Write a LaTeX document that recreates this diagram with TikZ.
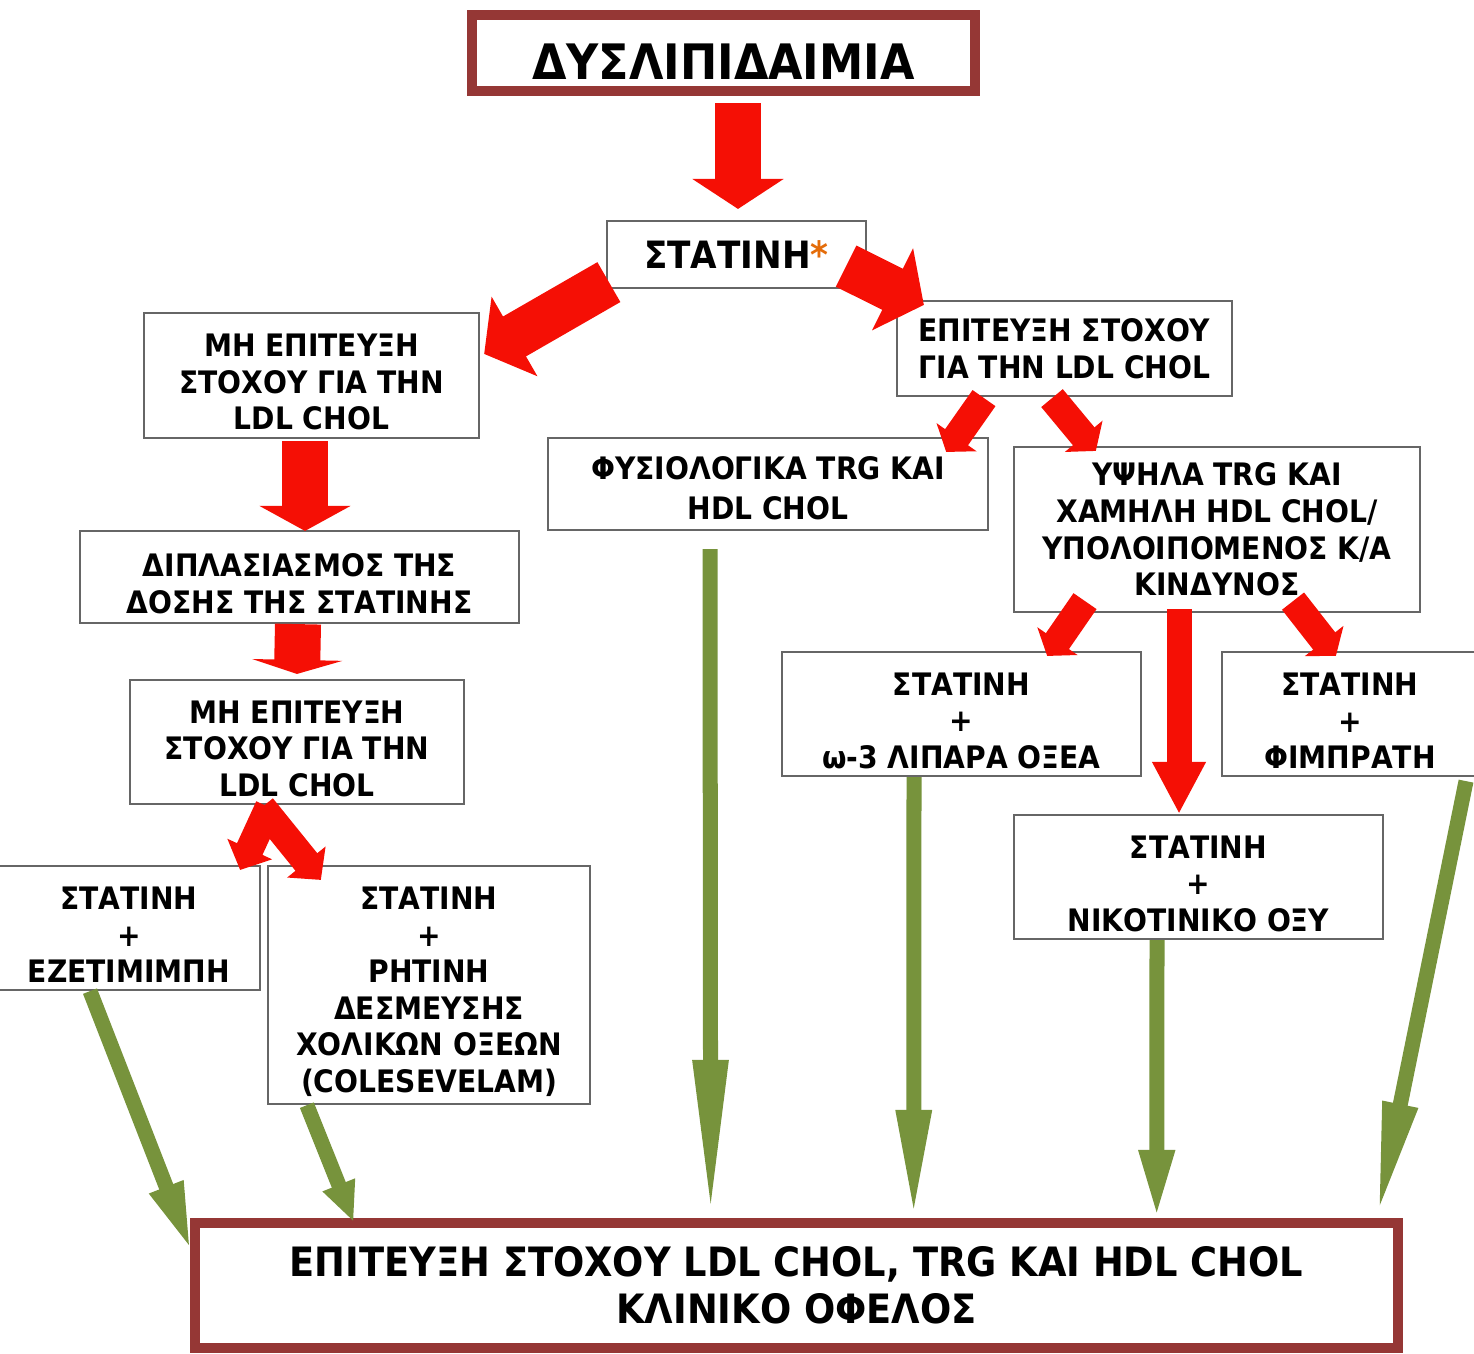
\documentclass[tikz,border=0pt]{standalone}
\usepackage{fontspec}
\setmainfont{DejaVu Sans}[FakeStretch=0.91]
\usetikzlibrary{arrows.meta,calc}

\definecolor{arrowred}{RGB}{245,15,5}
\definecolor{arrowgreen}{RGB}{119,147,60}
\definecolor{framered}{RGB}{149,55,53}
\definecolor{starorange}{RGB}{228,108,10}

\newcommand{\topgap}{\rule{0pt}{3.6mm}} % taller first line, text sits lower

\tikzset{
  redfat/.style = {draw=arrowred, line width=4.6mm, -{Triangle[width=9mm,length=#1]}},
  redthin/.style = {draw=arrowred, line width=2.8mm, -{Triangle[width=4.8mm,length=#1]}},
  greenline/.style = {draw=arrowgreen, line width=1.5mm, -{Triangle[width=3.2mm,length=#1]}}
}

\begin{document}
\begin{tikzpicture}[
        x = 0.01cm, % one unit = one pixel of the layout
        y = -0.01cm, % rows grow downwards
        font = \bfseries\fontsize{8.8}{10.4}\selectfont % box text
      ]

      \tikzstyle{box}=[rectangle, draw=black!60, line width=0.6pt, fill=white, align=center, inner sep=0pt]
      \tikzstyle{frame}=[rectangle, draw=framered, line width=1mm, fill=white, align=center, inner sep=0pt]

      \useasboundingbox (0,0) rectangle (1474,1353);

      % boxes
      \node[frame, minimum width=5.03cm, minimum height=0.76cm, font=\bfseries\fontsize{13.9}{16}\selectfont] (top) at (723.5,53) {\rule{0pt}{5.2mm}ΔΥΣΛΙΠΙΔΑΙΜΙΑ};
      \node[box, minimum width=2.59cm, minimum height=0.67cm, font=\bfseries\fontsize{10.7}{12}\selectfont] (stat) at (736.5,254.5) {ΣΤΑΤΙΝΗ\textcolor{starorange}{*}};
      \node[box, minimum width=3.35cm, minimum height=1.25cm] (mhA) at (311.5,375.5) {\topgap ΜΗ ΕΠΙΤΕΥΞΗ\\ΣΤΟΧΟΥ ΓΙΑ ΤΗΝ\\LDL CHOL};
      \node[box, minimum width=3.35cm, minimum height=0.95cm] (epit) at (1064.5,348.5) {ΕΠΙΤΕΥΞΗ ΣΤΟΧΟΥ\\ΓΙΑ ΤΗΝ LDL CHOL};
      \node[box, minimum width=4.40cm, minimum height=0.92cm, font=\bfseries\fontsize{8.8}{11.4}\selectfont] (fysio) at (768,484) {\rule{0pt}{3.2mm}ΦΥΣΙΟΛΟΓΙΚΑ TRG ΚΑΙ\\HDL CHOL};
      \node[box, minimum width=4.06cm, minimum height=1.65cm] (ypsila) at (1217,529.5) {ΥΨΗΛΑ TRG ΚΑΙ\\ΧΑΜΗΛΗ HDL CHOL/\\ΥΠΟΛΟΙΠΟΜΕΝΟΣ Κ/Α\\ΚΙΝΔΥΝΟΣ};
      \node[box, minimum width=4.39cm, minimum height=0.92cm] (dipl) at (299.5,577) {\topgap ΔΙΠΛΑΣΙΑΣΜΟΣ ΤΗΣ\\ΔΟΣΗΣ ΤΗΣ ΣΤΑΤΙΝΗΣ};
      \node[box, minimum width=3.34cm, minimum height=1.24cm] (mhB) at (297,742) {\topgap ΜΗ ΕΠΙΤΕΥΞΗ\\ΣΤΟΧΟΥ ΓΙΑ ΤΗΝ\\LDL CHOL};
      \node[box, minimum width=3.59cm, minimum height=1.24cm] (omega) at (961.5,714) {\topgap ΣΤΑΤΙΝΗ\\+\\ω-3 ΛΙΠΑΡΑ ΟΞΕΑ};
      \node[box, minimum width=2.56cm, minimum height=1.24cm] (fibr) at (1350,714) {\topgap ΣΤΑΤΙΝΗ\\+\\ΦΙΜΠΡΑΤΗ};
      \node[box, minimum width=3.69cm, minimum height=1.24cm] (nikot) at (1198.5,877) {\topgap ΣΤΑΤΙΝΗ\\+\\ΝΙΚΟΤΙΝΙΚΟ ΟΞΥ};
      \node[box, minimum width=2.62cm, minimum height=1.24cm] (ezet) at (129,928) {\topgap ΣΤΑΤΙΝΗ\\+\\ΕΖΕΤΙΜΙΜΠΗ};
      \node[box, minimum width=3.22cm, minimum height=2.38cm] (rhtini) at (429,985) {\topgap ΣΤΑΤΙΝΗ\\+\\ΡΗΤΙΝΗ\\ΔΕΣΜΕΥΣΗΣ\\ΧΟΛΙΚΩΝ ΟΞΕΩΝ\\(COLESEVELAM)};
      \node[frame, minimum width=12.03cm, minimum height=1.25cm, font=\bfseries\fontsize{11.5}{13.4}\selectfont] (bottom) at (796.5,1285.5) {ΕΠΙΤΕΥΞΗ ΣΤΟΧΟΥ LDL CHOL, TRG ΚΑΙ HDL CHOL\\ΚΛΙΝΙΚΟ ΟΦΕΛΟΣ};

      % red block arrows
      \draw[redfat=3mm] ($(top.south)+(14.5,7)$) -- ($(stat.north)+(1.5,-11)$);
      \draw[redfat=3.5mm] ($(stat.south west)+(3,-7)$) -- ($(mhA.north east)+(4,42)$);
      \draw[redfat=3.5mm] ($(stat.south east)+(-21,-23)$) -- ($(epit.north west)+(28,5)$);
      \draw[redfat=2.5mm] ($(mhA.south)+(-6.5,2)$) -- ($(dipl.north)+(5.5,1)$);
      \draw[redfat=1.4mm] ($(dipl.south)+(-1.5,0)$) -- ($(mhB.north)+(0,-5)$);
      \draw[redthin=2.3mm] ($(mhB.south)+(-28,2)$) -- ($(ezet.north east)+(-21,5)$);
      \draw[redthin=2.3mm] ($(mhB.south)+(-35,2)$) -- ($(rhtini.north west)+(54,15)$);
      \draw[redthin=1.8mm] ($(epit.south)+(-80.5,1)$) -- ($(fysio.north east)+(-43,15)$);
      \draw[redthin=1.9mm] ($(epit.south)+(-12.5,1)$) -- ($(ypsila.north west)+(83,5)$);
      \draw[redthin=1.8mm] ($(ypsila.south)+(-132,-12)$) -- ($(omega.north east)+(-95,5)$);
      \draw[redthin=1.9mm] ($(ypsila.south)+(76,-12)$) -- ($(fibr.north west)+(115,5)$);
      \draw[draw=arrowred, line width=2.5mm, -{Triangle[width=5mm,length=5.2mm]}] ($(ypsila.south)+(-38,-4)$) -- ($(nikot.north)+(-19.5,0)$);

      % green arrows to the result
      \draw[greenline=7mm] ($(ezet.south)+(-39,0)$) -- ($(bottom.north west)+(2,34)$);
      \draw[greenline=4mm] ($(rhtini.south west)+(40,0)$) -- ($(bottom.north west)+(164,4)$);
      \draw[greenline=16mm] ($(fysio.south)+(-58,18)$) -- ($(bottom.north west)+(521,2)$);
      \draw[greenline=11mm] ($(omega.south)+(-47.5,0)$) -- ($(bottom.north west)+(724,2)$);
      \draw[greenline=7mm] ($(nikot.south)+(-41.5,0)$) -- ($(bottom.north west)+(967,2)$);
      \draw[greenline=11.5mm] ($(fibr.south)+(116,4)$) -- ($(bottom.north east)+(-26,-1)$);

    \end{tikzpicture}
\end{document}
